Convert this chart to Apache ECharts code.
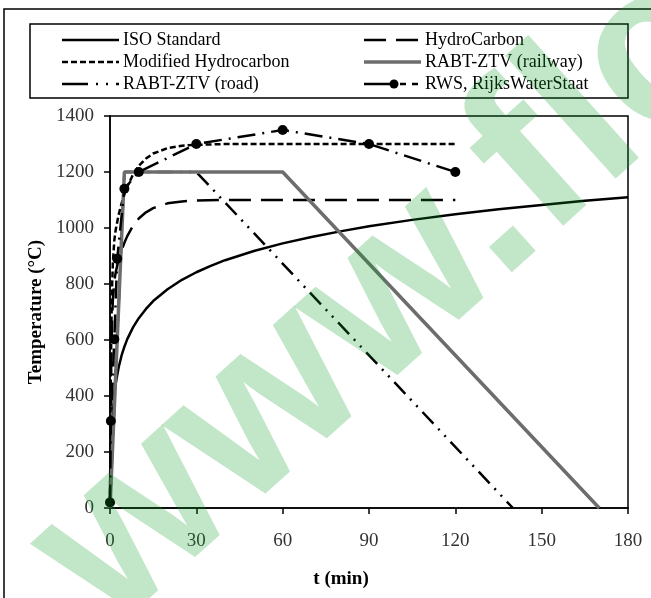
<!DOCTYPE html>
<html><head><meta charset="utf-8">
<script src="https://cdn.jsdelivr.net/npm/echarts@6/dist/echarts.min.js"></script>
<style>html,body{margin:0;padding:0;background:#fff}#c{width:651px;height:598px}</style>
</head><body><div id="c"></div>
<script>
// time (min) and temperature (°C)
const isoT = [0,0.25,0.5,1,1.5,2,3,4,5,6,8,10,12.5,15,20,25,30,35,40,50,60,70,80,90,105,120,135,150,165,180];
const isoV = [20,185,261,349,404,445,502,544,576,603,645,678,711,739,781,815,842,865,885,918,945,968,988,1006,1029,1049,1067,1082,1097,1110];
const hcT  = [0,0.25,0.5,0.75,1,1.5,2,3,4,5,6,8,10,12.5,15,20,25,30,40,60,90,120];
const hcV  = [20,373,568,678,743,810,843,887,920,947,971,1008,1034,1056,1071,1088,1095,1098,1100,1100,1100,1100];
const hcmT = [0,0.25,0.5,0.75,1,1.5,2,3,4,5,6,8,10,12.5,15,20,25,30,40,60,90,120];
const hcmV = [20,439,670,800,876,956,995,1047,1087,1120,1147,1191,1222,1248,1266,1285,1294,1297,1300,1300,1300,1300];
const railT = [0,5,60,170];
const railV = [0,1200,1200,0];
const roadT = [0,5,30,140];
const roadV = [0,1200,1200,0];
const rwsT = [0,0.3,1.5,2.5,5,10,30,60,90,120];
const rwsV = [20,311,603,890,1140,1200,1300,1350,1300,1200];
const xTicks = [0,30,60,90,120,150,180];
const yTicks = [0,200,400,600,800,1000,1200,1400];
const names = ['ISO Standard','HydroCarbon','Modified Hydrocarbon','RABT-ZTV (railway)','RABT-ZTV (road)','RWS, RijksWaterStaat'];
const watermark = 'www.flc';

const pairs = (t, v) => t.map((x, i) => [x, v[i]]);
const FONT = 'Liberation Serif';
const chart = echarts.init(document.getElementById('c'), null, {renderer: 'canvas'});

const styles = [
  {color: '#000', width: 2.5, dash: null},
  {color: '#000', width: 2.5, dash: [22, 10]},
  {color: '#000', width: 2.5, dash: [6, 3]},
  {color: '#6d6d6d', width: 3.5, dash: null},
  {color: '#000', width: 2.5, dash: [26, 8, 2, 8, 2, 8]},
  {color: '#000', width: 2.5, dash: [30, 6, 6, 6, 6, 6]}
];
// legend drawn as graphics: [series index, column x, row y]
const legendPos = [[0, 62, 40], [1, 364, 40], [2, 62, 62], [3, 364, 62], [4, 62, 84], [5, 364, 84]];
const legendGraphics = [];
legendPos.forEach(([i, x, y]) => {
  const s = styles[i];
  legendGraphics.push({type: 'line', shape: {x1: x, y1: y, x2: x + 57, y2: y},
    style: {stroke: s.color, lineWidth: s.width, lineDash: s.dash || null}});
  if (i === 5) legendGraphics.push({type: 'circle', shape: {cx: x + 30, cy: y, r: 4.5}, style: {fill: '#000'}});
  legendGraphics.push({type: 'text', x: x + 61, y: y,
    style: {text: names[i], font: '18px "Liberation Serif"', fill: '#000', textVerticalAlign: 'middle', verticalAlign: 'middle'}});
});

const lt = s => ({color: s.color, width: s.width, type: s.dash || 'solid'});
chart.setOption({
  animation: false,
  backgroundColor: '#fff',
  graphic: [
    {type: 'rect', shape: {x: 4, y: 9, width: 700, height: 700}, style: {fill: 'none', stroke: '#000', lineWidth: 1.5}, z: -1},
    {type: 'rect', shape: {x: 30, y: 24, width: 598, height: 74}, style: {fill: 'none', stroke: '#000', lineWidth: 1.5}},
    ...legendGraphics,
    {type: 'text', x: 69, y: 586, rotation: 0.733, z: 100,
     style: {text: watermark, font: 'bold 228px "Liberation Sans"', fill: 'rgba(12,156,36,0.25)', textVerticalAlign: 'middle', verticalAlign: 'middle'}}
  ],
  grid: {left: 110, right: 23, top: 116, bottom: 90, show: true, borderColor: '#000', borderWidth: 1.5},
  xAxis: {
    type: 'value', min: xTicks[0], max: xTicks[xTicks.length - 1], interval: 30,
    name: 't (min)', nameLocation: 'middle', nameGap: 62,
    nameTextStyle: {fontFamily: FONT, fontSize: 19, fontWeight: 'bold', color: '#000', padding: [0, 56, 0, 0]},
    axisLine: {lineStyle: {color: '#000', width: 1.5}},
    axisTick: {show: true, inside: false, length: 6, lineStyle: {color: '#000', width: 1.5}},
    axisLabel: {margin: 24, fontFamily: FONT, fontSize: 19, color: '#333', formatter: v => String(v)},
    splitLine: {show: false}
  },
  yAxis: {
    type: 'value', min: yTicks[0], max: yTicks[yTicks.length - 1], interval: 200,
    name: 'Temperature (°C)', nameLocation: 'middle', nameGap: 50,
    nameTextStyle: {fontFamily: FONT, fontSize: 19, fontWeight: 'bold', color: '#000'},
    axisLine: {show: true, lineStyle: {color: '#000', width: 1.5}},
    axisTick: {show: true, inside: false, length: 6, lineStyle: {color: '#000', width: 1.5}},
    axisLabel: {margin: 16, fontFamily: FONT, fontSize: 19, color: '#333', formatter: v => String(v)},
    splitLine: {show: false}
  },
  series: [
    {name: names[0], type: 'line', data: pairs(isoT, isoV), symbol: 'none', lineStyle: lt(styles[0])},
    {name: names[1], type: 'line', data: pairs(hcT, hcV), symbol: 'none', lineStyle: lt(styles[1])},
    {name: names[2], type: 'line', data: pairs(hcmT, hcmV), symbol: 'none', lineStyle: lt(styles[2])},
    {name: names[4], type: 'line', data: pairs(roadT, roadV), symbol: 'none', lineStyle: {color: '#000', width: 2.5, type: [16, 7, 2, 7, 2, 7]}},
    {name: names[3], type: 'line', data: pairs(railT, railV), symbol: 'none', lineStyle: lt(styles[3])},
    {name: names[5], type: 'line', data: pairs(rwsT, rwsV), symbol: 'circle', symbolSize: 10,
     lineStyle: {color: '#000', width: 2.5, type: [18, 7, 2, 7]}, itemStyle: {color: '#000'}}
  ]
});
</script></body></html>
